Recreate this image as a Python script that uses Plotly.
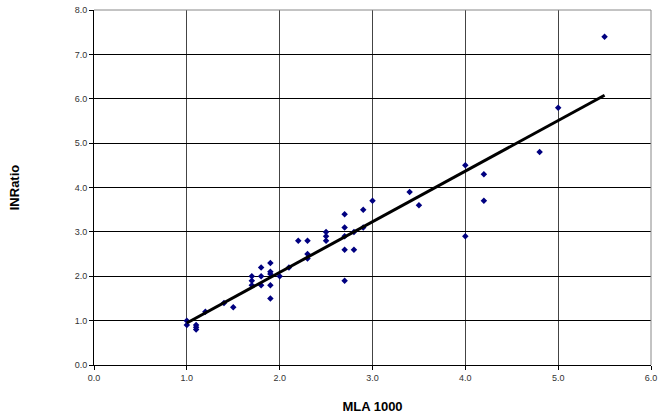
import numpy as np
import plotly.graph_objects as go

mla = [1.0, 1.0, 1.1, 1.1, 1.1, 1.2, 1.4, 1.5, 1.7, 1.7, 1.7, 1.8, 1.8, 1.8,
       1.9, 1.9, 1.9, 1.9, 1.9, 2.0, 2.1, 2.2, 2.3, 2.3, 2.3, 2.5, 2.5, 2.5,
       2.7, 2.7, 2.7, 2.7, 2.7, 2.8, 2.8, 2.9, 2.9, 3.0, 3.4, 3.5, 4.0, 4.0,
       4.2, 4.2, 4.8, 5.0, 5.5]
inr = [1.0, 0.9, 0.9, 0.85, 0.8, 1.2, 1.4, 1.3, 2.0, 1.9, 1.8, 2.2, 2.0, 1.8,
       2.3, 2.1, 2.05, 1.8, 1.5, 2.0, 2.2, 2.8, 2.8, 2.5, 2.4, 3.0, 2.9, 2.8,
       3.4, 3.1, 2.9, 2.6, 1.9, 2.6, 3.0, 3.5, 3.1, 3.7, 3.9, 3.6, 4.5, 2.9,
       4.3, 3.7, 4.8, 5.8, 7.4]

x_ticks = [0, 1, 2, 3, 4, 5, 6]
y_ticks = [0, 1, 2, 3, 4, 5, 6, 7, 8]

# least-squares trend line over the data range
slope, intercept = np.polyfit(mla, inr, 1)
tx = [min(mla), max(mla)]
ty = [slope * v + intercept for v in tx]

fig = go.Figure()
fig.add_trace(go.Scatter(x=mla, y=inr, mode="markers",
                         marker=dict(symbol="diamond", size=5, color="#000080"),
                         showlegend=False, cliponaxis=False))
fig.add_trace(go.Scatter(x=tx, y=ty, mode="lines",
                         line=dict(color="black", width=3),
                         showlegend=False))

font = dict(family="Liberation Sans, Arial, sans-serif", size=9, color="#333")
fig.update_layout(
    width=660, height=419,
    margin=dict(l=94, r=9, t=10, b=54, autoexpand=False),
    paper_bgcolor="white", plot_bgcolor="white",
    xaxis=dict(range=[0, 6], tickvals=x_ticks,
               ticktext=[f"{v:.1f}" for v in x_ticks],
               showgrid=True, gridcolor="#444", gridwidth=1,
               zeroline=False, showline=True, linecolor="black", linewidth=1,
               ticks="outside", ticklen=4, tickcolor="black",
               tickfont=font, automargin=False,
               title=dict(text="<b>MLA 1000</b>",
                          font=dict(family="Liberation Sans, Arial, sans-serif",
                                    size=13, color="black"),
                          standoff=20)),
    yaxis=dict(range=[0, 8], tickvals=y_ticks,
               ticktext=[f"{v:.1f}" for v in y_ticks],
               showgrid=True, gridcolor="black", gridwidth=1,
               zeroline=False, showline=True, linecolor="black", linewidth=1,
               ticks="outside", ticklen=4, tickcolor="black",
               tickfont=font, automargin=False,
               title=dict(text="<b>INRatio</b>",
                          font=dict(family="Liberation Sans, Arial, sans-serif",
                                    size=13, color="black"),
                          standoff=52)),
    shapes=[
        dict(type="line", xref="x domain", yref="y domain", x0=0, x1=1, y0=1, y1=1,
             line=dict(color="#888", width=1)),
        dict(type="line", xref="x domain", yref="y domain", x0=1, x1=1, y0=0, y1=1,
             line=dict(color="#888", width=1)),
    ],
)

fig.write_html("out.html")
